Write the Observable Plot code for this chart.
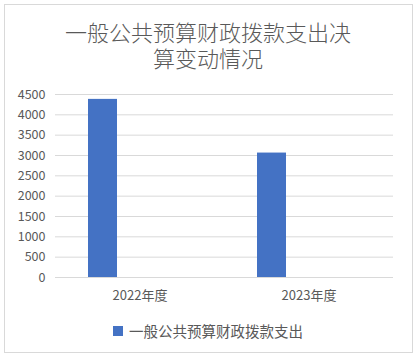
<!DOCTYPE html>
<html><head><meta charset="utf-8">
<script src="https://cdn.jsdelivr.net/npm/d3@7"></script>
<script src="https://cdn.jsdelivr.net/npm/@observablehq/plot@0.6"></script>
<style>
body{margin:0;background:#fff;font-family:"Noto Sans CJK SC","Noto Sans",sans-serif;}
#wrap{position:relative;width:416px;height:358px;overflow:hidden;}
#frame{position:absolute;left:4px;top:4px;width:407px;height:347px;border:1px solid #d9d9d9;}
.title{position:absolute;left:0;width:416px;text-align:center;font-size:22px;line-height:24px;height:24px;color:#595959;font-weight:300;white-space:nowrap;}
#chart{position:absolute;left:0;top:0;}
#legend{position:absolute;left:113px;top:320px;font-size:14.5px;color:#595959;display:flex;align-items:center;}
#legend span.sw{display:inline-block;width:10px;height:10px;background:#4472c4;margin-right:6px;}
</style></head>
<body><div id="wrap"><div id="frame"></div>
<div class="title" style="top:19px">一般公共预算财政拨款支出决</div>
<div class="title" style="top:45px">算变动情况</div>
<div id="chart"></div>
<div id="legend"><span class="sw"></span><span class="lt"></span></div>
</div>
<script>
const categories = ["2022年度", "2023年度"];
const values = [4380, 3060];
const seriesName = "一般公共预算财政拨款支出";
const yTicks = [0, 500, 1000, 1500, 2000, 2500, 3000, 3500, 4000, 4500];

const data = categories.map((c, i) => ({year: c, value: values[i]}));
document.querySelector("#legend .lt").textContent = seriesName;

const chart = Plot.plot({
  width: 416,
  height: 310,
  marginTop: 94,
  marginBottom: 33,
  marginLeft: 55,
  marginRight: 23,
  style: {fontFamily: '"Noto Sans CJK SC","Noto Sans",sans-serif', fontSize: "12.5px", color: "#595959", background: "transparent"},
  x: {domain: categories, padding: 0, label: null},
  y: {domain: [0, 4500], label: null},
  marks: [
    Plot.gridY(yTicks, {stroke: "#d9d9d9", strokeOpacity: 1}),
    Plot.barY(data, {x: "year", y: "value", fill: "#4472c4", insetLeft: 33, insetRight: 107}),
    Plot.axisY(yTicks, {tickSize: 0, tickPadding: 10, label: null, fill: "#595959", tickFormat: d => String(d)}),
    Plot.axisX({tickSize: 0, tickPadding: 13, label: null, fill: "#595959", fontSize: 13})
  ]
});
document.getElementById("chart").appendChild(chart);
</script>
</body></html>
